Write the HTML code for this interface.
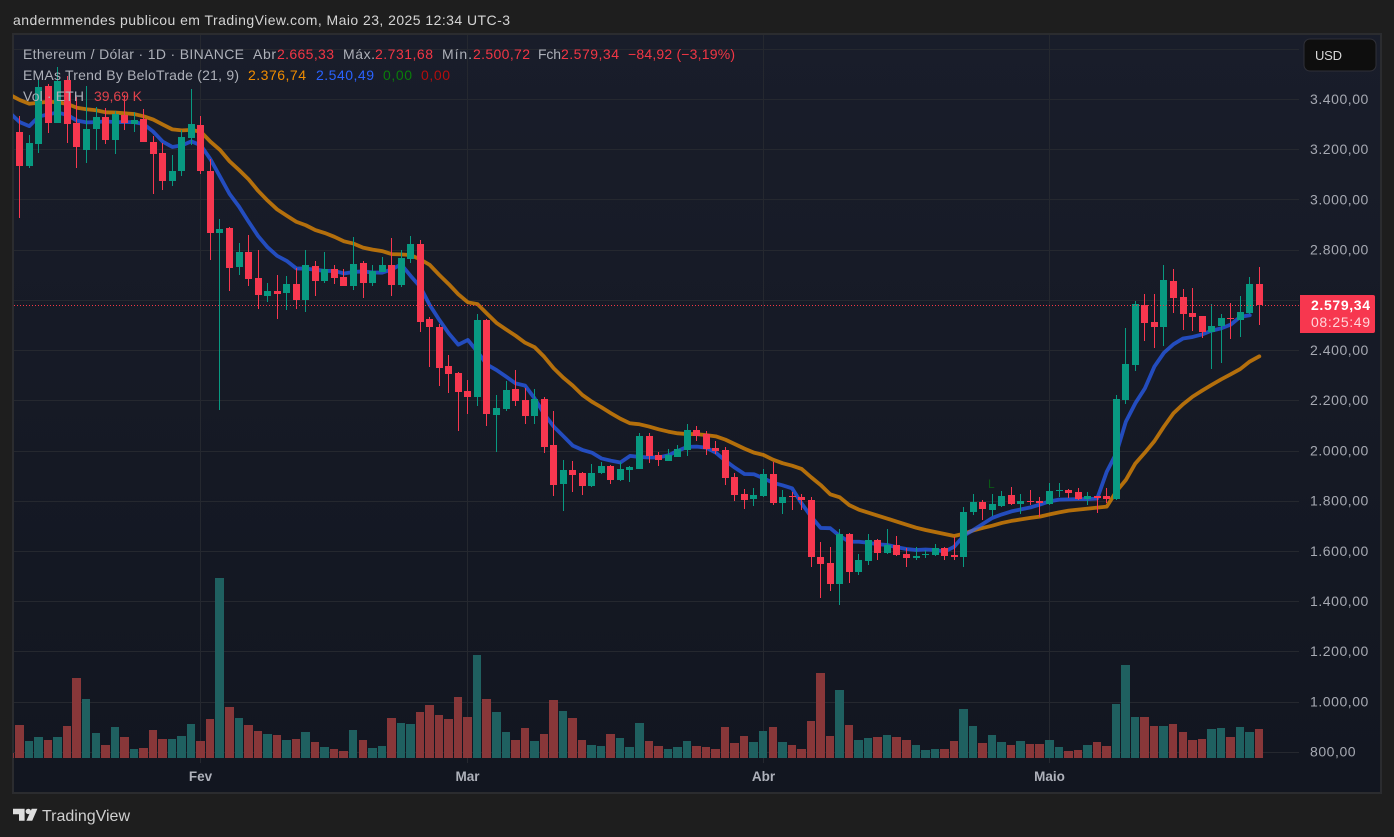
<!DOCTYPE html>
<html lang="pt">
<head>
<meta charset="utf-8">
<title>ETH/USD chart</title>
<style>
html,body{margin:0;padding:0;background:#1e1e1e;width:1394px;height:837px;overflow:hidden}
svg{display:block;position:absolute;left:0;top:0}
text{font-family:"Liberation Sans",sans-serif;font-size:14px;white-space:pre}
</style>
</head>
<body>
<svg id="root" xmlns="http://www.w3.org/2000/svg" width="1394" height="837" viewBox="0 0 1394 837">
  <defs>
    <linearGradient id="bgGrad" x1="0" y1="0" x2="0" y2="1">
      <stop offset="0" stop-color="#191d2a"/>
      <stop offset="1" stop-color="#121620"/>
    </linearGradient>
    <clipPath id="plotClip"><rect x="14" y="35" width="1285" height="757"/></clipPath>
    <clipPath id="volClip"><rect x="13" y="35" width="1286" height="757"/></clipPath>
  </defs>
  <text x="13" y="25" fill="#d4d4d4" textLength="497" lengthAdjust="spacing">andermmendes publicou em TradingView.com, Maio 23, 2025 12:34 UTC-3</text>
  <rect x="13" y="34" width="1368" height="759" fill="url(#bgGrad)" stroke="#2b2c2f" stroke-width="2"/>
  <g id="grid"></g>
  <g id="volumes" clip-path="url(#volClip)"></g>
  <g id="emas" clip-path="url(#volClip)"></g>
  <g id="candles" clip-path="url(#plotClip)"></g>
  <line id="lastLine" x1="14" x2="1299" stroke="#f23645" stroke-width="1" stroke-dasharray="1 2"/>
  <text x="988" y="488" fill="#0b5a16" style="font-size:12px">L</text>
  <g id="yLabels"></g>
  <g id="xLabels"></g>

  <g>
    <text x="23" y="59" fill="#adb0b9" textLength="221">Ethereum / Dólar · 1D · BINANCE</text>
    <text x="253" y="59" fill="#adb0b9" textLength="23">Abr</text>
    <text x="277" y="59" fill="#f23645" textLength="57">2.665,33</text>
    <text x="343" y="59" fill="#adb0b9" textLength="32">Máx.</text>
    <text x="375" y="59" fill="#f23645" textLength="58">2.731,68</text>
    <text x="442" y="59" fill="#adb0b9" textLength="30">Mín.</text>
    <text x="473" y="59" fill="#f23645" textLength="57">2.500,72</text>
    <text x="538" y="59" fill="#adb0b9" textLength="23">Fch</text>
    <text x="561" y="59" fill="#f23645" textLength="58">2.579,34</text>
    <text x="628" y="59" fill="#f23645" textLength="107">−84,92 (−3,19%)</text>
    <text x="23" y="80" fill="#adb0b9" textLength="216">EMAs Trend By BeloTrade (21, 9)</text>
    <text x="248" y="80" fill="#f08c00" textLength="58">2.376,74</text>
    <text x="316" y="80" fill="#2962ff" textLength="58">2.540,49</text>
    <text x="383" y="80" fill="#0a7d0a" textLength="29">0,00</text>
    <text x="421" y="80" fill="#b50d0d" textLength="29">0,00</text>
    <text x="23" y="101" fill="#adb0b9" textLength="61">Vol · ETH</text>
    <text x="94" y="101" fill="#e0424b" textLength="48">39,69 K</text>
  </g>

  <g>
    <rect x="1304" y="39" width="72" height="32" rx="6" fill="#0e0e0e" stroke="#2f3038" stroke-width="1"/>
    <text x="1315" y="60" fill="#d8d8d8" textLength="27" style="font-size:13px">USD</text>
  </g>

  <g>
    <path d="M1300 295H1373a2 2 0 0 1 2 2V331a2 2 0 0 1-2 2H1300Z" fill="#f7374f"/>
    <text x="1311" y="310" fill="#ffffff" font-weight="bold" textLength="59">2.579,34</text>
    <text x="1311" y="327" fill="#ffd5da" textLength="59">08:25:49</text>
  </g>

  <g>
    <path d="M13 808.7H24.6V820.7H19V814.2H13Z" fill="#dedede"/>
    <circle cx="28.3" cy="811.4" r="2.7" fill="#dedede"/>
    <path d="M31.7 808.7H37.4L32.2 820.7H26.4Z" fill="#dedede"/>
    <text x="42" y="821" fill="#cfcfcf" textLength="88" style="font-size:16px">TradingView</text>
  </g>
</svg>
<script>
// Daily bars, first entry is the bar cut off by the left edge of the plot.
const opens = [3380,3270,3136,3224,3454,3308,3478,3306,3200,3282,3330,3240,3338,3302,3322,3231,3187,3077,3116,3247,3298,3115,2869,2888,2734,2792,2689,2617,2637,2629,2665,2601,2737,2677,2725,2693,2657,2749,2669,2713,2741,2661,2764,2824,2526,2494,2338,2310,2239,2215,2522,2143,2167,2247,2203,2139,2207,2024,1868,1924,1912,1860,1912,1940,1884,1924,1928,2059,1984,1960,1976,2004,2083,2067,2012,2004,1896,1828,1808,1820,1908,1792,1820,1816,1804,1577,1553,1470,1669,1518,1561,1645,1593,1625,1589,1573,1585,1585,1613,1585,1577,1756,1796,1765,1780,1824,1788,1800,1800,1788,1840,1844,1836,1808,1820,1820,1808,2203,2342,2581,2514,2494,2677,2613,2549,2537,2474,2498,2530,2522,2549,2665.33];
const highs = [3400,3334,3259,3478,3462,3528,3494,3409,3454,3369,3366,3354,3418,3350,3362,3255,3225,3179,3278,3442,3334,3163,2924,2892,2828,2860,2800,2669,2701,2697,2730,2800,2757,2792,2741,2725,2852,2757,2741,2773,2848,2800,2856,2840,2534,2506,2382,2314,2283,2546,2526,2223,2279,2322,2251,2247,2215,2159,1964,1960,1916,1948,1956,1944,1956,1938,2071,2071,1996,2008,2024,2107,2099,2079,2040,2016,1912,1848,1852,1928,1956,1844,1836,1828,1816,1637,1617,1689,1671,1589,1669,1649,1689,1661,1613,1617,1605,1629,1617,1657,1776,1828,1804,1828,1840,1856,1828,1844,1816,1872,1872,1848,1852,1836,1822,1852,2223,2490,2597,2625,2625,2741,2725,2645,2649,2539,2585,2546,2589,2617,2693,2731.68];
const lows = [3260,2929,3128,3188,3268,3308,3228,3128,3148,3200,3224,3184,3280,3272,3230,3025,3041,3057,3097,3217,3105,2762,2163,2638,2702,2658,2567,2593,2526,2561,2565,2553,2617,2669,2665,2655,2641,2609,2657,2711,2617,2653,2749,2475,2335,2260,2231,2079,2147,2179,2099,1996,2159,2179,2107,2107,1993,1820,1761,1836,1824,1858,1908,1868,1882,1876,1926,1952,1940,1958,1974,1980,2040,1984,1988,1864,1800,1769,1780,1818,1784,1749,1765,1765,1537,1414,1442,1386,1474,1506,1545,1565,1591,1583,1537,1565,1573,1583,1565,1565,1537,1745,1725,1741,1778,1784,1749,1784,1737,1786,1816,1812,1806,1784,1753,1792,1806,2187,2318,2438,2410,2418,2549,2482,2478,2450,2326,2350,2446,2454,2547,2500.72];
const closes = [3290,3136,3227,3448,3308,3474,3304,3212,3282,3330,3240,3342,3308,3318,3232,3184,3077,3115,3251,3302,3115,2869,2884,2730,2792,2686,2621,2637,2625,2665,2601,2741,2677,2725,2689,2657,2745,2669,2717,2741,2661,2768,2824,2515,2494,2330,2306,2235,2215,2522,2147,2171,2243,2199,2139,2207,2016,1864,1924,1904,1860,1912,1940,1884,1928,1936,2059,1980,1964,1984,2008,2083,2059,2008,2000,1892,1824,1804,1824,1908,1792,1816,1816,1804,1577,1549,1470,1669,1518,1565,1645,1593,1625,1585,1573,1581,1589,1613,1581,1577,1756,1796,1769,1788,1820,1788,1800,1796,1792,1840,1844,1832,1808,1820,1814,1808,2207,2346,2585,2510,2494,2681,2609,2545,2533,2474,2498,2530,2526,2553,2665,2579.34];
const volumes = [6.8,44.7,22.8,28.3,24.2,28.3,43.3,109,80.3,33.7,17.3,42,28.3,11.9,13.2,37.8,25.5,25.5,29.6,46.1,22.8,52.9,247,69.3,54.3,44.7,36.5,32.4,31,24.2,25.5,35.1,21.4,14.6,11.9,9.1,37.8,24.2,13.2,16,54.3,47.4,46.1,62.5,72,58.4,52.9,83,56.1,140.9,80.7,62.9,35.6,24.6,41,23.3,32.8,79.3,64.3,54.7,24.6,17.8,16.4,32.8,27.4,15,47.9,23.3,16.4,12.3,15,23.3,16.4,15,12.3,42.4,20.5,30.1,21.9,36.9,42.4,21.9,17.8,12.3,50.6,116.3,30.1,93,45.1,24.6,27.4,28.7,31.5,28.7,24.6,17.8,10.9,12.3,12.3,23.3,67,43.8,20.5,31.5,21.9,17.8,23.3,19.2,19.2,24.6,15,9.6,10.9,17.8,21.9,16.4,73.9,127.2,56.1,56.1,43.8,43.8,46.5,35.6,24.6,26,39.7,41,28.7,42.4,35.6,39.69];
const ema21 = [3418,3398,3383,3387,3391,3389,3382,3367,3361,3357,3349,3348,3345,3342,3333,3320,3300,3281,3277,3279,3271,3232,3199,3154,3119,3082,3036,2997,2962,2937,2913,2899,2880,2868,2853,2835,2826,2810,2802,2796,2784,2783,2780,2763,2741,2701,2664,2624,2592,2585,2547,2510,2484,2459,2431,2413,2375,2329,2292,2260,2223,2196,2174,2150,2128,2110,2106,2097,2086,2077,2070,2067,2067,2063,2058,2045,2027,2009,1993,1984,1965,1951,1941,1928,1895,1864,1827,1815,1784,1766,1754,1742,1730,1718,1706,1694,1685,1677,1669,1661,1670,1683,1693,1702,1713,1721,1727,1733,1738,1747,1755,1762,1766,1770,1774,1778,1838,1884,1950,1993,2039,2097,2150,2186,2216,2240,2263,2285,2305,2326,2356,2376.74];
const ema9 = [3345,3310,3294,3332,3341,3348,3338,3316,3309,3310,3313,3310,3310,3310,3302,3272,3232,3211,3217,3233,3217,3162,3093,3024,2973,2913,2856,2811,2777,2757,2727,2726,2722,2717,2717,2707,2713,2715,2711,2710,2723,2743,2697,2654,2581,2522,2468,2423,2442,2395,2344,2322,2296,2269,2260,2209,2147,2097,2059,2021,2004,1993,1970,1961,1954,1980,1976,1974,1974,1982,2000,2016,2017,2013,1993,1961,1933,1908,1907,1891,1873,1863,1851,1791,1738,1693,1692,1661,1638,1638,1634,1628,1625,1616,1609,1605,1607,1605,1599,1618,1662,1685,1709,1733,1747,1759,1767,1775,1786,1799,1806,1807,1808,1808,1810,1917,1990,2116,2190,2249,2336,2391,2425,2448,2454,2464,2479,2488,2503,2534,2540.49];
const priceTicks = [3600,3400,3200,3000,2800,2600,2400,2200,2000,1800,1600,1400,1200,1000,800];
const priceTickLabels = ["3.600,00","3.400,00","3.200,00","3.000,00","2.800,00","2.600,00","2.400,00","2.200,00","2.000,00","1.800,00","1.600,00","1.400,00","1.200,00","1.000,00","800,00"];
const monthLabels = ["Fev","Mar","Abr","Maio"];
const monthBars = [20,48,79,109];

const SVG_NS = "http://www.w3.org/2000/svg";
const xScale = k => 10.215 + 9.535 * k;
const yScale = p => 49.3 + (3600 - p) * 50.2 / 200;
const volScale = v => v * 0.7307;
const VOL_BASE = 758;
const UP = "#089981", DOWN = "#f7374f", VOL_UP = "#1f6060", VOL_DOWN = "#883739";

function mk(tag, attrs) {
  const el = document.createElementNS(SVG_NS, tag);
  for (const key in attrs) el.setAttribute(key, attrs[key]);
  return el;
}

const gridG = document.getElementById("grid");
const yG = document.getElementById("yLabels");
const xG = document.getElementById("xLabels");
const volG = document.getElementById("volumes");
const emaG = document.getElementById("emas");
const candleG = document.getElementById("candles");

priceTicks.forEach((p, i) => {
  const y = Math.floor(yScale(p) + 0.1) + 0.5;
  const line = mk("line", {x1: 14, x2: 1299, y1: y, y2: y, stroke: "#25282f", "stroke-width": 1});
  
  
  gridG.appendChild(line);
  if (p === 3600) return;
  const t = mk("text", {x: 1310, y: yScale(p) + 4.5, fill: "#a6a9b2", "letter-spacing": "0.55"});
  t.textContent = priceTickLabels[i];
  
  
  yG.appendChild(t);
});

monthLabels.forEach((label, i) => {
  const x = Math.floor(xScale(monthBars[i])) + 0.5;
  const line = mk("line", {x1: x, x2: x, y1: 35, y2: 763, stroke: "#25282f", "stroke-width": 1});
  
  
  gridG.appendChild(line);
  const t = mk("text", {x: x, y: 781, fill: "#aeb1ba", "text-anchor": "middle", "font-weight": "bold", style: "font-size:13.5px"});
  t.textContent = label;
  
  
  xG.appendChild(t);
});

volumes.forEach((v, k) => {
  const x = xScale(k);
  const left = Math.floor(x) - 4;
  const right = Math.round(x) + 4;
  const h = Math.round(volScale(v));
  const r = mk("rect", {x: left, y: VOL_BASE - h, width: right - left, height: h, fill: closes[k] >= opens[k] ? VOL_UP : VOL_DOWN});
  
  
  volG.appendChild(r);
});

function emaPath(values) {
  return values.map((v, k) => (k ? "L" : "M") + xScale(k).toFixed(2) + " " + yScale(v).toFixed(2)).join("");
}
const orangeLine = mk("path", {d: emaPath(ema21), fill: "none", stroke: "#ff9800", "stroke-opacity": 0.68, "stroke-width": 3.8, "stroke-linejoin": "round", "stroke-linecap": "round"});


emaG.appendChild(orangeLine);
const blueLine = mk("path", {d: emaPath(ema9), fill: "none", stroke: "#2962ff", "stroke-opacity": 0.7, "stroke-width": 3.8, "stroke-linejoin": "round", "stroke-linecap": "round"});


emaG.appendChild(blueLine);

opens.forEach((o, k) => {
  const c = closes[k];
  const color = c >= o ? UP : DOWN;
  const px = Math.floor(xScale(k));
  const wick = mk("rect", {x: px, y: Math.round(yScale(highs[k])), width: 1, height: Math.max(1, Math.round(yScale(lows[k])) - Math.round(yScale(highs[k]))), fill: color});
  
  
  candleG.appendChild(wick);
  const top = Math.round(yScale(Math.max(o, c)));
  const bot = Math.round(yScale(Math.min(o, c)));
  const body = mk("rect", {x: px - 3, y: top, width: 7, height: Math.max(1, bot - top), fill: color});
  
  
  candleG.appendChild(body);
});

const lastY = Math.floor(yScale(closes[closes.length - 1])) + 0.5;
const lastLine = document.getElementById("lastLine");
lastLine.setAttribute("y1", lastY);
lastLine.setAttribute("y2", lastY);
</script>
</body>
</html>
